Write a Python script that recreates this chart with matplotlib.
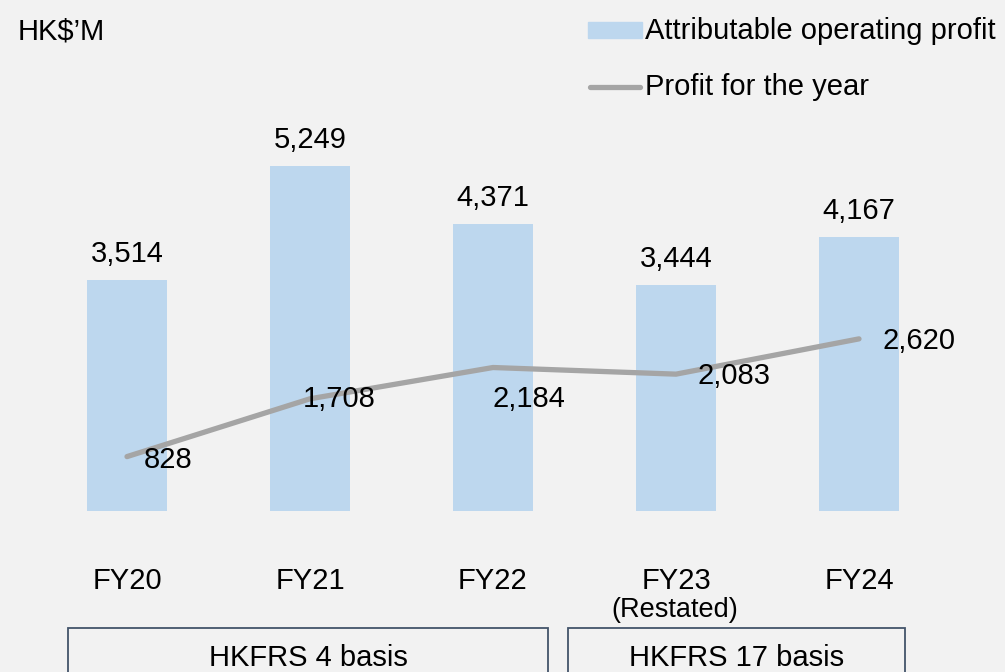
import matplotlib
matplotlib.use("Agg")
import matplotlib.pyplot as plt
from matplotlib.patches import Rectangle
from matplotlib.lines import Line2D

plt.rcParams['font.family'] = ['Liberation Sans', 'DejaVu Sans']

categories = ["FY20", "FY21", "FY22", "FY23", "FY24"]
operating_profit = [3514, 5249, 4371, 3444, 4167]
profit_for_year = [828, 1708, 2184, 2083, 2620]
unit_label = "HK$\u2019M"
legend_bar = "Attributable operating profit"
legend_line = "Profit for the year"
restated_note = "(Restated)"
basis_labels = ["HKFRS 4 basis", "HKFRS 17 basis"]

BG = "#F2F2F2"
BAR = "#BDD7EE"
LINE = "#A5A5A5"
BOX = "#44546A"
FS = 21

W, H = 1005, 672
fig = plt.figure(figsize=(W / 100, H / 100), dpi=100, facecolor=BG)

base_px = 511
scale = 0.0657  # px per unit
ax = fig.add_axes([0, (H - base_px) / H, 1, base_px / H])
ax.set_facecolor(BG)
ax.set_xlim(-127 / 183, (W - 127) / 183)
ax.set_ylim(0, base_px / scale)
for s in ax.spines.values():
    s.set_visible(False)
ax.set_yticks([])

x = list(range(len(categories)))
ax.bar(x, operating_profit, width=80 / 183, color=BAR, zorder=1)
ax.plot(x, profit_for_year, color=LINE, lw=3.8, solid_capstyle='round',
        solid_joinstyle='round', zorder=2)

ax.set_xticks(x)
ax.set_xticklabels(categories, fontsize=FS)
ax.tick_params(axis='x', length=0, pad=40)

px2pt = 0.72
for xi, v in zip(x, operating_profit):
    ax.annotate(f"{v:,}", (xi, v), xytext=(0, 26 * px2pt), textcoords='offset points',
                ha='center', va='center', fontsize=FS, zorder=3)

line_offsets = [(41, -3), (29, 0), (36, -31), (58, -2), (60, -2)]
for xi, v, (dx, dy) in zip(x, profit_for_year, line_offsets):
    ax.annotate(f"{v:,}", (xi, v), xytext=(dx * px2pt, dy * px2pt), textcoords='offset points',
                ha='center', va='center', fontsize=FS, zorder=3)

# Restated note under FY23
fig.text(675 / W, 1 - 597 / H, restated_note, ha='center', va='top', fontsize=19.5)

# Unit label
fig.text(18 / W, 1 - 31 / H, unit_label, ha='left', va='center', fontsize=FS)

# Legend
fig.patches.append(Rectangle((588 / W, 1 - 38 / H), 54 / W, 16 / H,
                             transform=fig.transFigure, color=BAR))
fig.text(645 / W, 1 - 31 / H, legend_bar, ha='left', va='center', fontsize=FS)
fig.lines.append(Line2D([590 / W, 640 / W], [1 - 87 / H, 1 - 87 / H],
                        transform=fig.transFigure, color=LINE, lw=3.8,
                        solid_capstyle='round'))
fig.text(645 / W, 1 - 87 / H, legend_line, ha='left', va='center', fontsize=FS)

# Basis boxes
boxes = [(68, 548), (568, 905)]
for (x0, x1), lab in zip(boxes, basis_labels):
    fig.patches.append(Rectangle((x0 / W, 1 - 700 / H), (x1 - x0) / W, (700 - 628) / H,
                                 transform=fig.transFigure, facecolor='none',
                                 edgecolor=BOX, lw=1.3))
    fig.text((x0 + x1) / 2 / W, 1 - 658 / H, lab, ha='center', va='center', fontsize=FS)

fig.savefig("out.png", dpi=100, facecolor=BG)
